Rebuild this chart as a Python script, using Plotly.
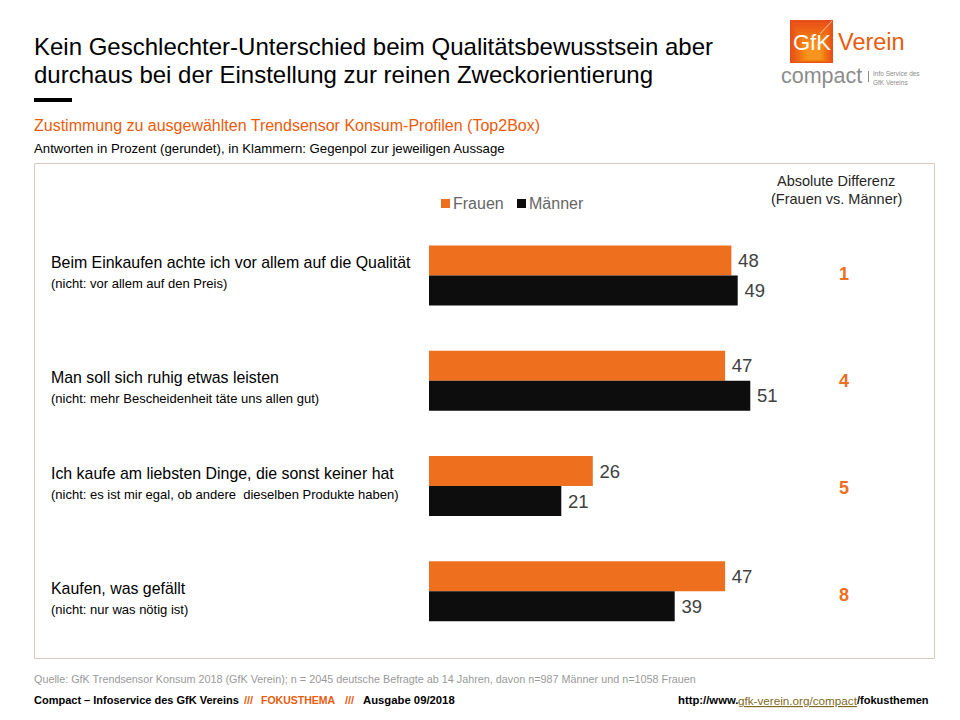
import plotly.graph_objs as go

W = 960
H = 720

ORANGE = '#ee6f1e'
TEXT_ORANGE = '#ea5b0c'
BLACK = '#0d0d0d'
FONT = 'Liberation Sans'

# data
categories = ['Beim Einkaufen achte ich vor allem auf die Qualität',
              'Man soll sich ruhig etwas leisten',
              'Ich kaufe am liebsten Dinge, die sonst keiner hat',
              'Kaufen, was gefällt']
gegenpol = ['(nicht: vor allem auf den Preis)',
            '(nicht: mehr Bescheidenheit täte uns allen gut)',
            '(nicht: es ist mir egal, ob andere  dieselben Produkte haben)',
            '(nicht: nur was nötig ist)']
frauen = [48, 47, 26, 47]
maenner = [49, 51, 21, 39]
differenz = [1, 4, 5, 8]


def px(x):
    return x / W


def py(y):
    return 1 - y / H


def label(text, x, y, size, color='#000000', anchor='left'):
    # annotation box adds 2px of padding on the left
    x = x - 2 if anchor == 'left' else x
    fig.add_annotation(text=text, xref='paper', yref='paper', x=px(x), y=py(y),
                       xanchor=anchor, yanchor='middle', align=anchor, showarrow=False,
                       font=dict(family=FONT, size=size, color=color))


def rect(x0, y0, x1, y1, fill, line=None):
    fig.add_shape(type='rect', xref='paper', yref='paper',
                  x0=px(x0), x1=px(x1), y0=py(y0), y1=py(y1), fillcolor=fill,
                  line=dict(color=line, width=1) if line else dict(width=0))


fig = go.Figure()
fig.add_trace(go.Bar(y=categories, x=frauen, name='Frauen', orientation='h', marker_color=ORANGE,
                     text=frauen, textposition='outside', cliponaxis=False))
fig.add_trace(go.Bar(y=categories, x=maenner, name='Männer', orientation='h', marker_color=BLACK,
                     text=maenner, textposition='outside', cliponaxis=False))
fig.update_traces(marker_line_width=0, texttemplate='\u2009%{x}',
                  outsidetextfont=dict(family=FONT, size=18.5, color='#404040'))

fig.update_layout(width=W, height=H, barmode='group', bargap=0.43, bargroupgap=0,
                  showlegend=False, paper_bgcolor='white', plot_bgcolor='rgba(0,0,0,0)',
                  margin=dict(l=0, r=0, t=0, b=0),
                  xaxis=dict(domain=[px(429), px(429 + 6.3 * 60)], range=[0, 60], visible=False),
                  yaxis=dict(domain=[py(644), py(222.8)], autorange='reversed', visible=False))

# panel and title rule
rect(34.5, 163.5, 934.5, 658.5, 'rgba(0,0,0,0)', '#d3cbc3')
rect(34, 98, 72, 102, '#000000')

label('Kein Geschlechter-Unterschied beim Qualitätsbewusstsein aber', 34, 46, 24)
label('durchaus bei der Einstellung zur reinen Zweckorientierung', 34, 75, 24)
label('Zustimmung zu ausgewählten Trendsensor Konsum-Profilen (Top2Box)', 34, 125, 16, TEXT_ORANGE)
label('Antworten in Prozent (gerundet), in Klammern: Gegenpol zur jeweiligen Aussage', 34, 149, 13.2)

# legend
rect(441, 199, 450, 208, ORANGE)
label('Frauen', 453, 203, 16, '#666666')
rect(517, 199, 526, 208, BLACK)
label('Männer', 529, 203, 16, '#666666')

label('Absolute Differenz', 836, 181, 14.5, '#262626', 'center')
label('(Frauen vs. Männer)', 836, 199, 14.5, '#262626', 'center')

# row labels follow the category axis, even rows sit lower in the original
for i, (cat, sub, diff) in enumerate(zip(categories, gegenpol, differenz)):
    drop = 10 if i % 2 else 0
    fig.add_annotation(text=cat, xref='paper', yref='y', x=px(49), y=cat, yshift=13 - drop, xanchor='left',
                       showarrow=False, font=dict(family=FONT, size=15.9, color='#000000'))
    fig.add_annotation(text=sub, xref='paper', yref='y', x=px(49), y=cat, yshift=-8 - drop, xanchor='left',
                       showarrow=False, font=dict(family=FONT, size=13, color='#000000'))
    fig.add_annotation(text='<b>%d</b>' % diff, xref='paper', yref='y', x=px(844), y=cat, xanchor='center',
                       yshift=1 - 1.6 * i, showarrow=False, font=dict(family=FONT, size=18, color=ORANGE))

# footer
label('Quelle: GfK Trendsensor Konsum 2018 (GfK Verein); n = 2045 deutsche Befragte ab 14 Jahren, '
      'davon n=987 Männer und n=1058 Frauen', 34, 679, 10.8, '#999999')
label('<b>Compact – Infoservice des GfK Vereins</b>', 34, 700, 11)
label('<b>///</b>', 244, 700, 11, TEXT_ORANGE)
label('<b>FOKUSTHEMA</b>', 261, 700, 10.5, TEXT_ORANGE)
label('<b>///</b>', 345, 700, 11, TEXT_ORANGE)
label('<b>Ausgabe 09/2018</b>', 363, 700, 11.3)
label('<b>http://www.</b>', 678, 700, 11.3)
label('<span style="text-decoration:underline">gfk-verein.org/compact</span>', 738, 700, 11.7, '#7f6a1e')
label('<b>/fokusthemen</b>', 857, 700, 11)

# logo
logo_steps = ['#e8501a', '#ea5618', '#ec5e16', '#ee6614', '#f06e13', '#f27812', '#f48214', '#f68c18', '#f7931e']
for i, c in enumerate(logo_steps):
    rect(790 + i * 2, 20 + i * 3, 833 - i * 1.5, 63 - i * 0.4, c)
fig.add_shape(type='line', xref='paper', yref='paper', x0=px(820), x1=px(832), y0=py(34), y1=py(21),
              line=dict(color='rgba(255,255,255,0.6)', width=1))
label('GfK', 811.5, 42, 22, 'white', 'center')
label('Verein', 838, 42, 23.5, TEXT_ORANGE)
label('compact', 781, 76, 21.5, '#8c8c8c')
rect(868, 71, 869, 82, '#8c8c8c')
label('Info Service des', 873, 74, 6.5, '#8c8c8c')
label('GfK Vereins', 873, 82, 6.5, '#8c8c8c')

fig.write_html('out.html', config=dict(displayModeBar=False),
               post_script="document.body.style.margin='0';")
